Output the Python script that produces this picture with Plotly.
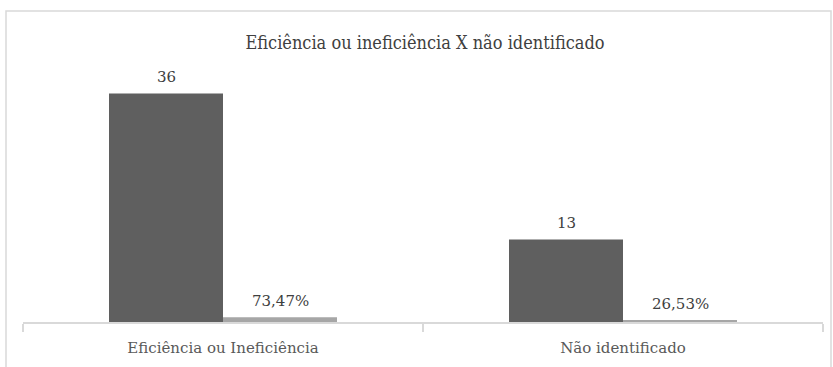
import plotly.graph_objects as go

categories = ["Eficiência ou Ineficiência", "Não identificado"]
counts = [36, 13]
shares = [0.7347, 0.2653]
count_labels = ["36", "13"]
share_labels = ["73,47%", "26,53%"]

W, H = 833, 367
L, R, T, B = 23, 10, 61, 40
plot_h = H - T - B
pw = W - L - R
px_per_unit = 233 / 36
y_top = plot_h / px_per_unit
LABEL_FONT = dict(family="DejaVu Serif", size=15, color="#404040")

fig = go.Figure()
fig.add_trace(go.Bar(
    x=categories, y=counts, marker=dict(color="#5f5f5f", line=dict(width=0)),
    name="Quantidade", offsetgroup="a",
))
fig.add_trace(go.Bar(
    x=categories, y=shares, marker=dict(color="#a6a6a6", line=dict(width=0)),
    name="Percentual", offsetgroup="b",
))

bar_px = pw / len(categories) * (1 - 0.43) / 2
for cat, v, t in zip(categories, counts, count_labels):
    fig.add_annotation(x=cat, y=v, text=t, showarrow=False, xshift=-bar_px / 2,
                       yanchor="bottom", yshift=5, font=LABEL_FONT)
for cat, v, t in zip(categories, shares, share_labels):
    fig.add_annotation(x=cat, y=v, text=t, showarrow=False, xshift=bar_px / 2,
                       yanchor="bottom", yshift=5, font=LABEL_FONT)

fig.add_shape(type="rect", xref="paper", yref="paper",
              x0=(6 - L) / pw, x1=(831 - L) / pw,
              y0=-(B + 40) / plot_h, y1=1 + (T - 10) / plot_h,
              line=dict(color="#d9d9d9", width=1.5), fillcolor="rgba(0,0,0,0)",
              layer="below")

fig.update_layout(
    width=W, height=H,
    margin=dict(l=L, r=R, t=T, b=B),
    paper_bgcolor="white", plot_bgcolor="white",
    showlegend=False,
    barmode="group", bargap=0.43, bargroupgap=0,
    title=dict(text="Eficiência ou ineficiência X não identificado",
               x=(425 - L) / pw, xref="paper", xanchor="center",
               y=1 - 43 / H, yref="container", yanchor="middle",
               font=dict(family="DejaVu Serif Condensed", size=18, color="#404040")),
    xaxis=dict(showline=True, linecolor="#d9d9d9", linewidth=1.5,
               ticks="outside", tickson="boundaries", ticklen=8,
               tickcolor="#d9d9d9", tickwidth=1.5, ticklabelstandoff=11,
               tickfont=dict(family="DejaVu Serif", size=15, color="#595959"),
               showgrid=False, zeroline=False),
    yaxis=dict(range=[0, y_top], visible=False, showgrid=False, zeroline=False),
)

fig.write_html("out.html")
